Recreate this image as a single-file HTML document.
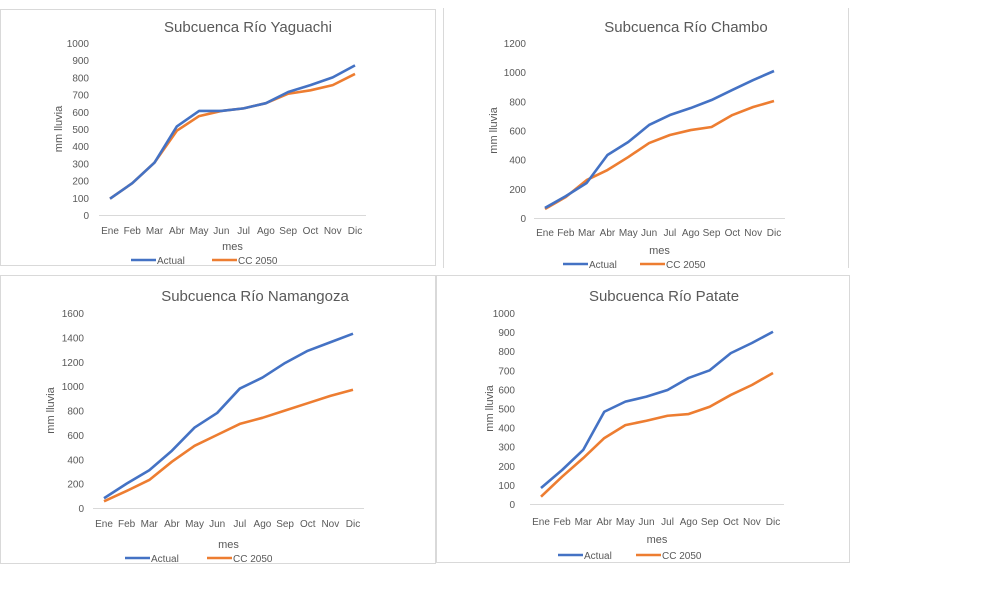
<!DOCTYPE html>
<html><head><meta charset="utf-8"><style>
body{margin:0;background:#fff;width:994px;height:601px;overflow:hidden;font-family:"Liberation Sans",sans-serif}
svg{position:absolute;left:0;top:0}
</style></head><body>
<svg id="s" width="994" height="601" xmlns="http://www.w3.org/2000/svg">
<rect x="0.5" y="9.5" width="435" height="256" fill="none" stroke="#d9d9d9"/>
<line x1="443.5" y1="8" x2="443.5" y2="268" stroke="#d9d9d9"/>
<line x1="848.5" y1="8" x2="848.5" y2="268" stroke="#d9d9d9"/>
<rect x="0.5" y="275.5" width="435" height="288" fill="none" stroke="#d9d9d9"/>
<rect x="436.5" y="275.5" width="413" height="287" fill="none" stroke="#d9d9d9"/>
</svg>
<script>
const months=["Ene","Feb","Mar","Abr","May","Jun","Jul","Ago","Sep","Oct","Nov","Dic"];
const yaguachiActual=[95,185,305,515,605,605,620,650,715,755,800,870];
const yaguachiCC=[95,185,305,490,575,605,620,650,705,725,755,820];
const yaguachiTicks=[0,100,200,300,400,500,600,700,800,900,1000];
const chamboActual=[69,150,240,432,521,638,706,754,809,878,946,1008];
const chamboCC=[62,144,260,329,418,514,569,603,624,706,761,802];
const chamboTicks=[0,200,400,600,800,1000,1200];
const namangozaActual=[80,200,310,470,660,780,980,1070,1190,1290,1360,1430];
const namangozaCC=[55,140,230,380,510,600,690,740,800,860,920,970];
const namangozaTicks=[0,200,400,600,800,1000,1200,1400,1600];
const patateActual=[84,178,283,483,536,562,597,660,700,790,843,902];
const patateCC=[38,143,240,345,413,436,462,471,509,571,623,686];
const patateTicks=[0,100,200,300,400,500,600,700,800,900,1000];

const NS="http://www.w3.org/2000/svg";
const svg=document.getElementById('s');
function mk(tag,attrs,text){const e=document.createElementNS(NS,tag);for(const k in attrs)e.setAttribute(k,attrs[k]);if(text!==undefined)e.textContent=text;svg.appendChild(e);return e;}

function chart(c){
  const ymax=c.ticks[c.ticks.length-1];
  const yS=v=>c.y0-(v/ymax)*(c.y0-c.y1);
  const xS=i=>c.xa+i*(c.xb-c.xa)/(months.length-1);
  let t=mk('text',{x:c.tx,y:c.ty,'text-anchor':'middle','font-size':15,fill:'#595959'},c.title);
  
  
  c.ticks.forEach(v=>{
    let e=mk('text',{x:c.lx,y:yS(v)+4,'text-anchor':'end','font-size':10,fill:'#595959'},v);
    
    
  });
  let ax=mk('line',{x1:c.xa-11,x2:c.xb+11,y1:c.y0+0.5,y2:c.y0+0.5,stroke:'#d9d9d9'});
  
  
  months.forEach((m,i)=>{
    let e=mk('text',{x:xS(i),y:c.y0+c.lab,'text-anchor':'middle','font-size':10,fill:'#595959'},m);
    
    
  });
  let yt=mk('text',{x:0,y:0,'text-anchor':'middle','font-size':11,fill:'#595959',transform:`translate(${c.ytx},${(c.y0+c.y1)/2}) rotate(-90)`},'mm lluvia');
  
  
  let xt=mk('text',{x:(c.xa+c.xb)/2,y:c.y0+c.mes,'text-anchor':'middle','font-size':11,fill:'#595959'},'mes');
  
  
  [[c.cc,'#ed7d31','cc-2050-line'],[c.act,'#4472c4','actual-line']].forEach(([d,col,n])=>{
    let p=mk('polyline',{points:d.map((v,i)=>xS(i)+','+yS(v)).join(' '),fill:'none',stroke:col,'stroke-width':2.6,'stroke-linejoin':'round'});
    
    
  });
  [[c.lg1,'#4472c4','Actual','legend-actual'],[c.lg2,'#ed7d31','CC 2050','legend-cc-2050']].forEach(([x,col,txt,n])=>{
    let l=mk('line',{x1:x,x2:x+25,y1:c.ly,y2:c.ly,stroke:col,'stroke-width':2.6});
    
    
    let e=mk('text',{x:x+26,y:c.ly+4,'font-size':10,fill:'#595959'},txt);
    
    
  });
}
chart({title:'Subcuenca Río Yaguachi',tx:248,ty:32,lx:89,y0:215,y1:43,xa:110,xb:355,lab:19,mes:35,ytx:62,act:yaguachiActual,cc:yaguachiCC,ticks:yaguachiTicks,lg1:131,lg2:212,ly:260});
chart({title:'Subcuenca Río Chambo',tx:686,ty:32,lx:526,y0:218,y1:43,xa:545,xb:774,lab:18,mes:36,ytx:497,act:chamboActual,cc:chamboCC,ticks:chamboTicks,lg1:563,lg2:640,ly:264});
chart({title:'Subcuenca Río Namangoza',tx:255,ty:301,lx:84,y0:508,y1:313,xa:104,xb:353,lab:19,mes:40,ytx:54,act:namangozaActual,cc:namangozaCC,ticks:namangozaTicks,lg1:125,lg2:207,ly:558});
chart({title:'Subcuenca Río Patate',tx:664,ty:301,lx:515,y0:504,y1:313,xa:541,xb:773,lab:21,mes:39,ytx:493,act:patateActual,cc:patateCC,ticks:patateTicks,lg1:558,lg2:636,ly:555});
</script>
</body></html>
